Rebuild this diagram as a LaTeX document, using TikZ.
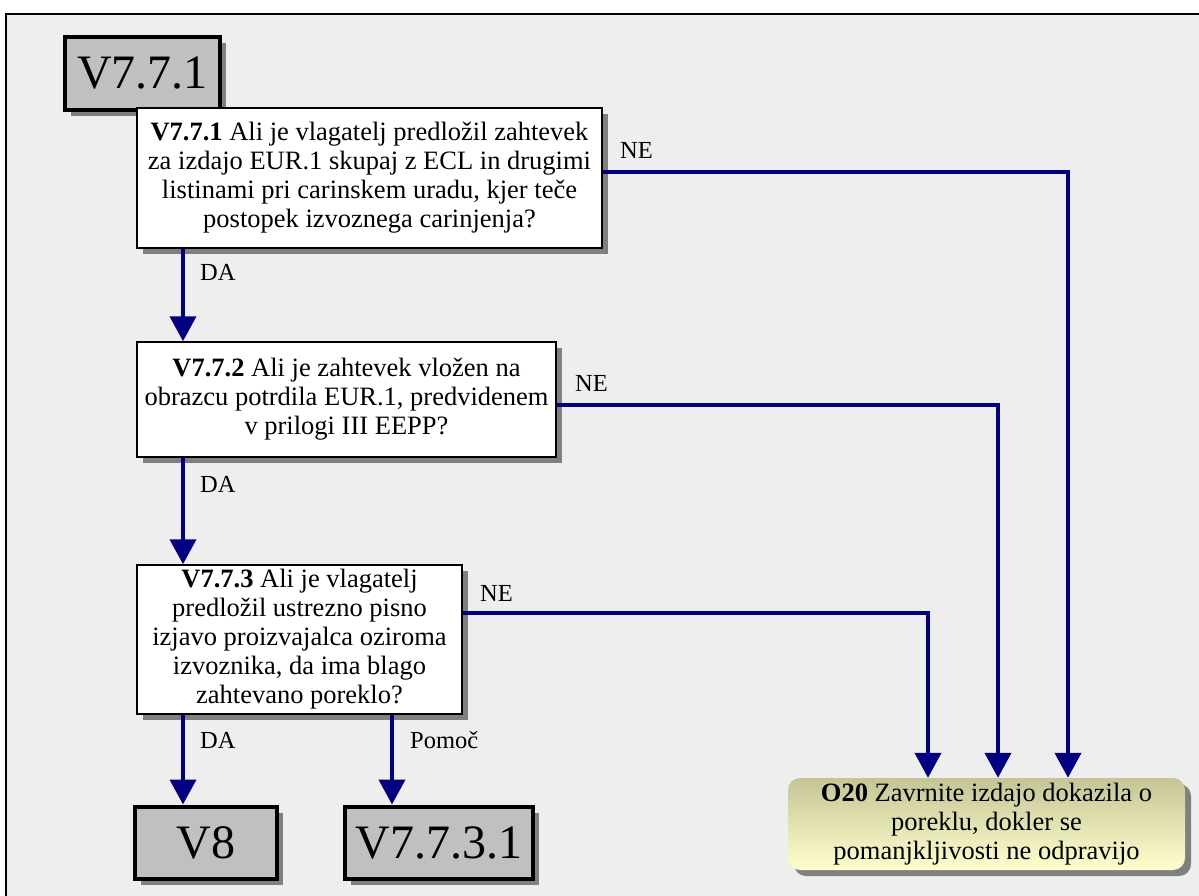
\documentclass[tikz,border=0pt]{standalone}
\usepackage{fontspec}
\setmainfont{Liberation Serif}
\usetikzlibrary{arrows.meta,shadows}
\definecolor{canvasbg}{HTML}{EEEEEE}
\definecolor{boxgray}{HTML}{C0C0C0}
\definecolor{shade}{HTML}{808080}
\definecolor{flow}{HTML}{000080}
\definecolor{olivetop}{RGB}{196,196,150}
\definecolor{creambot}{RGB}{255,255,206}
\begin{document}
\begin{tikzpicture}[x=1pt,y=-1pt,
  txt/.style={font=\fontsize{26.5}{29}\selectfont},
  question/.style={txt, draw=black, line width=1.5pt, fill=white, align=center,
    inner sep=0pt, general shadow={shadow xshift=6pt, shadow yshift=-6pt, fill=shade}},
  refbox/.style={draw=black, line width=4pt, fill=boxgray, inner sep=0pt,
    font=\fontsize{48}{50}\selectfont,
    general shadow={shadow xshift=6pt, shadow yshift=-6pt, fill=shade}},
  outcome/.style={txt, rounded corners=12pt, top color=olivetop, bottom color=creambot,
    align=center, inner sep=0pt,
    general shadow={shadow xshift=6pt, shadow yshift=-6pt, fill=shade}},
  flowarrow/.style={draw=flow, line width=4pt, -{Triangle[width=26pt,length=25pt]}},
  lbl/.style={font=\fontsize{24.5}{29}\selectfont, anchor=west, inner sep=0pt},
]
% page and panel background
\useasboundingbox (0,0) rectangle (1199,896);
\fill[white] (0,0) rectangle (1199,896);
\fill[canvasbg] (6,14) rectangle (1199,896);
\draw[line width=1.5pt] (6,896) -- (6,14) -- (1199,14);

% reference boxes
\node[refbox, minimum width=155pt, minimum height=73pt] (top) at (142.5,73.5) {V7.7.1};

% question boxes
\node[question, minimum width=465pt, minimum height=140pt] (q1) at (369.5,178)
  {\textbf{V7.7.1} Ali je vlagatelj predložil zahtevek\\
   za izdajo EUR.1 skupaj z ECL in drugimi\\
   listinami pri carinskem uradu, kjer teče\\
   postopek izvoznega carinjenja?};
\node[question, minimum width=419pt, minimum height=115pt] (q2) at (346.5,399.5)
  {\textbf{V7.7.2} Ali je zahtevek vložen na\\
   obrazcu potrdila EUR.1, predvidenem\\
   v prilogi III EEPP?};
\node[question, minimum width=325pt, minimum height=149pt] (q3) at (299.5,639.5)
  {\textbf{V7.7.3} Ali je vlagatelj\\
   predložil ustrezno pisno\\
   izjavo proizvajalca oziroma\\
   izvoznika, da ima blago\\
   zahtevano poreklo?};

\node[refbox, minimum width=142pt, minimum height=72pt] (v8) at (206,842.5) {V8};
\node[refbox, minimum width=188pt, minimum height=72pt] (v7731) at (439,842.5) {V7.7.3.1};

\node[outcome, minimum width=397pt, minimum height=92pt] (o20) at (986.5,824)
  {\textbf{O20} Zavrnite izdajo dokazila o\\
   poreklu, dokler se\\
   pomanjkljivosti ne odpravijo};

% vertical guide positions
\coordinate (da) at (183,0);
\coordinate (help) at (392,0);
\coordinate (ne1) at (1068,0);
\coordinate (ne2) at (998,0);
\coordinate (ne3) at (928,0);

% DA branches
\draw[flowarrow] (q1.south -| da) -- (q2.north -| da);
\draw[flowarrow] (q2.south -| da) -- (q3.north -| da);
\draw[flowarrow] (q3.south -| da) -- (v8.north -| da);
\draw[flowarrow] (q3.south -| help) -- (v7731.north -| help);

% NE branches
\draw[flowarrow] ([yshift=6pt]q1.east) -| (o20.north -| ne1);
\draw[flowarrow] ([yshift=-5.5pt]q2.east) -| (o20.north -| ne2);
\draw[flowarrow] ([yshift=26.5pt]q3.east) -| (o20.north -| ne3);

% branch labels
\node[lbl] (l1) at (200,272) {DA};
\node[lbl] (l2) at (200,484) {DA};
\node[lbl] (l3) at (200,740) {DA};
\node[lbl] (l4) at (410,740) {Pomoč};
\node[lbl] (l5) at (620,150) {NE};
\node[lbl] (l6) at (575,383) {NE};
\node[lbl] (l7) at (480,593) {NE};
\end{tikzpicture}
\end{document}
